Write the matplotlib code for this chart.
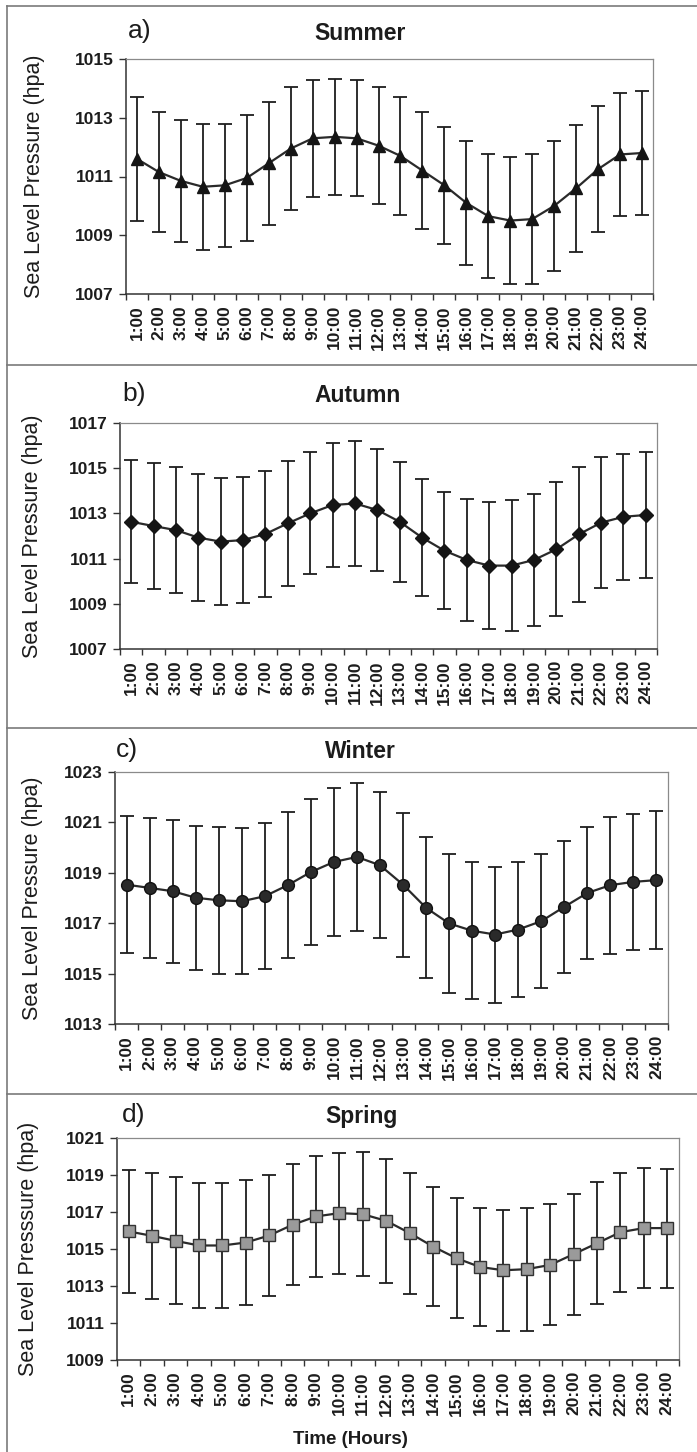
import matplotlib
matplotlib.use("Agg")
import matplotlib.pyplot as plt
from matplotlib.lines import Line2D

plt.rcParams['font.family'] = ['Liberation Sans', 'DejaVu Sans']

hours = ["1:00", "2:00", "3:00", "4:00", "5:00", "6:00", "7:00", "8:00",
         "9:00", "10:00", "11:00", "12:00", "13:00", "14:00", "15:00", "16:00",
         "17:00", "18:00", "19:00", "20:00", "21:00", "22:00", "23:00", "24:00"]

summer_mean = [1011.60, 1011.15, 1010.85, 1010.65, 1010.70, 1010.95, 1011.45, 1011.95,
               1012.30, 1012.35, 1012.30, 1012.05, 1011.70, 1011.20, 1010.70, 1010.10,
               1009.65, 1009.50, 1009.55, 1010.00, 1010.60, 1011.25, 1011.75, 1011.80]
summer_sd = [2.10, 2.05, 2.07, 2.15, 2.10, 2.13, 2.10, 2.08, 2.00, 1.97, 1.98, 2.00,
             2.00, 2.00, 2.00, 2.10, 2.10, 2.16, 2.20, 2.20, 2.17, 2.15, 2.10, 2.10]

autumn_mean = [1012.63, 1012.44, 1012.26, 1011.93, 1011.75, 1011.82, 1012.09, 1012.56,
               1013.00, 1013.37, 1013.44, 1013.15, 1012.63, 1011.93, 1011.35, 1010.94,
               1010.69, 1010.69, 1010.94, 1011.41, 1012.07, 1012.59, 1012.85, 1012.93]
autumn_sd = [2.73, 2.78, 2.80, 2.81, 2.80, 2.80, 2.80, 2.77, 2.70, 2.75, 2.75, 2.70,
             2.65, 2.60, 2.60, 2.70, 2.80, 2.90, 2.94, 2.97, 2.98, 2.90, 2.80, 2.80]

winter_mean = [1018.53, 1018.40, 1018.27, 1018.01, 1017.91, 1017.87, 1018.07, 1018.51,
               1019.03, 1019.43, 1019.63, 1019.30, 1018.53, 1017.61, 1016.99, 1016.70,
               1016.55, 1016.75, 1017.08, 1017.65, 1018.20, 1018.51, 1018.64, 1018.71]
winter_sd = [2.73, 2.78, 2.83, 2.86, 2.92, 2.90, 2.90, 2.90, 2.90, 2.93, 2.92, 2.90,
             2.86, 2.80, 2.75, 2.71, 2.70, 2.67, 2.65, 2.63, 2.63, 2.72, 2.70, 2.75]

spring_mean = [1015.95, 1015.71, 1015.44, 1015.19, 1015.19, 1015.35, 1015.73, 1016.31,
               1016.76, 1016.94, 1016.88, 1016.52, 1015.86, 1015.13, 1014.50, 1014.03,
               1013.85, 1013.91, 1014.14, 1014.72, 1015.31, 1015.91, 1016.13, 1016.13]
spring_sd = [3.33, 3.42, 3.43, 3.40, 3.36, 3.37, 3.25, 3.27, 3.27, 3.27, 3.34, 3.34,
             3.27, 3.20, 3.24, 3.18, 3.28, 3.32, 3.27, 3.27, 3.30, 3.22, 3.24, 3.22]

summer_ticks = [1007, 1009, 1011, 1013, 1015]
autumn_ticks = [1007, 1009, 1011, 1013, 1015, 1017]
winter_ticks = [1013, 1015, 1017, 1019, 1021, 1023]
spring_ticks = [1009, 1011, 1013, 1015, 1017, 1019, 1021]

W, H = 697, 1452
fig = plt.figure(figsize=(W / 100, H / 100), dpi=100)
fig.patch.set_facecolor("white")

TXT = "#1c1c1c"


def px_axes(x0, y0, x1, y1):
    return fig.add_axes([x0 / W, 1 - y1 / H, (x1 - x0) / W, (y1 - y0) / H])


def fx(x):
    return x / W


def fy(y):
    return 1 - y / H


# panel frames
for yb in [6, 365, 728, 1094]:
    fig.add_artist(Line2D([fx(7), fx(697)], [fy(yb), fy(yb)], color="#7a7a7a", lw=1.2))
fig.add_artist(Line2D([fx(7), fx(7)], [fy(6), fy(1452)], color="#7a7a7a", lw=1.2))

panels = [
    dict(rect=(126, 59, 653, 294), mean=summer_mean, sd=summer_sd, ticks=summer_ticks,
         title="Summer", tag="a)", tx=360, ty=33, tagx=128, ylx=35,
         ylabel="Sea Level Pressure (hpa)",
         marker="^", ms=8.5, mfc="#151515", mec="#151515"),
    dict(rect=(120, 423, 657, 649), mean=autumn_mean, sd=autumn_sd, ticks=autumn_ticks,
         title="Autumn", tag="b)", tx=358, ty=396, tagx=122, ylx=33,
         ylabel="Sea Level Pressure (hpa)",
         marker="D", ms=7, mfc="#151515", mec="#151515"),
    dict(rect=(115, 772, 668, 1024), mean=winter_mean, sd=winter_sd, ticks=winter_ticks,
         title="Winter", tag="c)", tx=360, ty=752, tagx=116, ylx=33,
         ylabel="Sea Level Pressure (hpa)",
         marker="o", ms=8.5, mfc="#2a2a2a", mec="#111111"),
    dict(rect=(117, 1138, 679, 1360), mean=spring_mean, sd=spring_sd, ticks=spring_ticks,
         title="Spring", tag="d)", tx=362, ty=1117, tagx=122, ylx=29,
         ylabel="Sea Level Presssure (hpa)",
         marker="s", ms=8, mfc="#9a9a9a", mec="#333333"),
]

for p in panels:
    x0, y0, x1, y1 = p["rect"]
    ax = px_axes(x0, y0, x1, y1)
    n = len(hours)
    xs = [i + 0.5 for i in range(n)]
    ax.errorbar(xs, p["mean"], yerr=p["sd"], fmt="none", ecolor="#1e1e1e",
                elinewidth=1.3, capsize=5, capthick=1.3, zorder=2)
    ax.plot(xs, p["mean"], color="#2a2a2a", lw=1.6, marker=p["marker"], ms=p["ms"],
            mfc=p["mfc"], mec=p["mec"], mew=1.0, zorder=3)
    ax.set_xlim(0, n)
    ax.set_ylim(p["ticks"][0], p["ticks"][-1])
    ax.set_yticks(p["ticks"])
    ax.set_yticklabels([str(t) for t in p["ticks"]], fontsize=12.5,
                       fontweight="bold", color=TXT)
    # category boundary ticks, labels centred on categories
    ax.set_xticks(range(n + 1))
    ax.set_xticklabels([])
    ax.set_xticks(xs, minor=True)
    ax.set_xticklabels(hours, minor=True, rotation=90, fontsize=12.5,
                       fontweight="bold", color=TXT)
    ax.tick_params(axis="x", which="major", direction="out", length=4, width=1, color="#333333")
    ax.tick_params(axis="x", which="minor", length=0, pad=8)
    ax.tick_params(axis="y", direction="out", length=5, width=1, color="#333333", pad=4)
    for s in ["top", "right"]:
        ax.spines[s].set_color("#8a8a8a")
        ax.spines[s].set_linewidth(0.9)
    for s in ["left", "bottom"]:
        ax.spines[s].set_color("#333333")
        ax.spines[s].set_linewidth(1.1)
    fig.text(fx(p["tx"]), fy(p["ty"]), p["title"], ha="center", va="center",
             fontsize=16.5, fontweight="bold", color=TXT)
    fig.text(fx(p["tagx"]), fy(p["ty"] - 2), p["tag"], ha="left", va="center",
             fontsize=19, color=TXT)
    fig.text(fx(p["ylx"]), fy((y0 + y1) / 2), p["ylabel"], rotation=90,
             ha="center", va="center", fontsize=15.5, color=TXT)

fig.text(fx(350), fy(1440), "Time (Hours)", ha="center", va="center",
         fontsize=13.5, fontweight="bold", color=TXT)

fig.savefig("out.png", dpi=100)
